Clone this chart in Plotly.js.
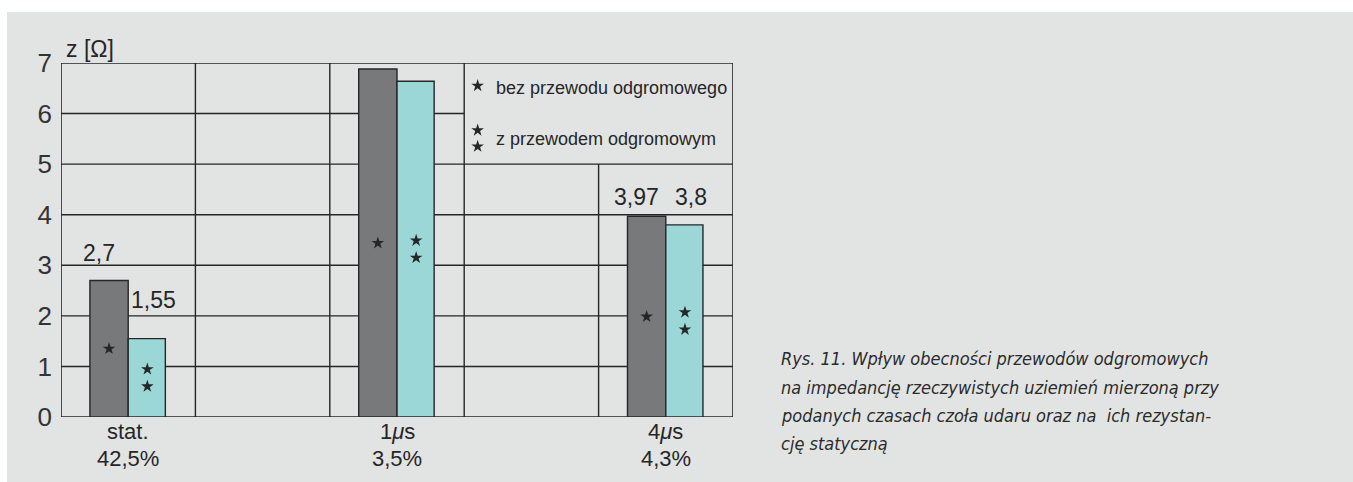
<!DOCTYPE html>
<html>
<head>
<meta charset="utf-8">
<script src="https://cdn.plot.ly/plotly-3.0.1.min.js"></script>
<style>
  html, body { margin: 0; padding: 0; background: #ffffff; }
  #chart { width: 1353px; height: 482px; }
</style>
</head>
<body>
<div id="chart"></div>
<script>
// ---- data ----
const categories = ["stat.", "1<i>μ</i>s", "4<i>μ</i>s"];
const percentages = ["42,5%", "3,5%", "4,3%"];
const withoutWire = [2.7, 6.88, 3.97];     // * bez przewodu odgromowego
const withWire = [1.55, 6.64, 3.8];        // ** z przewodem odgromowym
const withoutLabels = ["2,7", "6,88", "3,97"];
const withLabels = ["1,55", "6,64", "3,8"];
const legendTexts = ["bez przewodu odgromowego", "z przewodem odgromowym"];
const yTickVals = [0, 1, 2, 3, 4, 5, 6, 7];
const yTitle = "z [Ω]";
const captionLines = [
  "Rys. 11. Wpływ obecności przewodów odgromowych",
  "na impedancję rzeczywistych uziemień mierzoną przy",
  "podanych czasach czoła udaru oraz na  ich rezystan-",
  "cję statyczną"
];

// ---- layout helpers (pixel geometry of the plot area) ----
const W = 1353, H = 482;
const L = 61, R = 733, T = 63, B = 417;
const px2x = px => (px - L) / (R - L);
const py2y = py => (B - py) / (B - T);

const catPos = categories.map((_, i) => 0.5 + 2 * i);
const barW = 0.285;
const gray = "#77797b", cyan = "#9bd7d7", ink = "#262626";
const font = "Liberation Sans, Arial, Helvetica, sans-serif";

const traces = [
  {
    type: "bar", x: catPos, y: withoutWire, width: barW, offset: -barW,
    marker: { color: gray, line: { color: ink, width: 1.4 } },
    hoverinfo: "skip", showlegend: false
  },
  {
    type: "bar", x: catPos, y: withWire, width: barW * 0.97, offset: 0,
    marker: { color: cyan, line: { color: ink, width: 1.4 } },
    hoverinfo: "skip", showlegend: false
  },
  // single star in the middle of the grey bars
  {
    type: "scatter", mode: "markers",
    x: catPos.map(c => c - barW / 2), y: withoutWire.map(v => v / 2),
    marker: { symbol: "star", size: 9.5, color: ink },
    hoverinfo: "skip", showlegend: false
  },
  // double star in the middle of the cyan bars
  {
    type: "scatter", mode: "markers",
    x: catPos.flatMap(c => [c + barW / 2, c + barW / 2]),
    y: withWire.flatMap(v => [v / 2 + 0.17, v / 2 - 0.17]),
    marker: { symbol: "star", size: 9.5, color: ink },
    hoverinfo: "skip", showlegend: false
  },
  // legend stars
  {
    type: "scatter", mode: "markers", xaxis: "x", yaxis: "y",
    x: [3.1, 3.1, 3.1], y: [6.55, 5.67, 5.35],
    marker: { symbol: "star", size: 9.5, color: ink },
    hoverinfo: "skip", showlegend: false, cliponaxis: false
  }
];

// grid lines as shapes (cut around the legend box)
const lineStyle = { color: ink, width: 1.4 };
const shapes = [
  { type: "rect", xref: "paper", yref: "paper", x0: px2x(7), x1: px2x(1353), y0: py2y(482), y1: py2y(12),
    fillcolor: "#e2e3e3", line: { width: 0 }, layer: "below" }
];
[1, 2, 3, 4, 5].forEach(v => shapes.push({ type: "line", xref: "x", yref: "y", x0: 0, x1: 5, y0: v, y1: v, line: lineStyle, layer: "below" }));
shapes.push({ type: "line", xref: "x", yref: "y", x0: 0, x1: 3, y0: 6, y1: 6, line: lineStyle, layer: "below" });
[1, 2, 3].forEach(v => shapes.push({ type: "line", xref: "x", yref: "y", x0: v, x1: v, y0: 0, y1: 7, line: lineStyle, layer: "below" }));
shapes.push({ type: "line", xref: "x", yref: "y", x0: 4, x1: 4, y0: 0, y1: 5, line: lineStyle, layer: "below" });
shapes.push({ type: "rect", xref: "x", yref: "y", x0: 0, x1: 5, y0: 0, y1: 7, line: { color: ink, width: 1.6 }, layer: "below" });

const annotations = [];
// value labels
const grayLabelDx = -0.22, cyanLabelDx = 0.19;
const grayLabelY = [withoutWire[0] + 0.54, 7.31, withoutWire[2] + 0.38];
const cyanLabelY = [withWire[0] + 0.76, 7.31, withoutWire[2] + 0.38];
catPos.forEach((c, i) => {
  annotations.push({ x: c + grayLabelDx, y: grayLabelY[i], xref: "x", yref: "y", text: withoutLabels[i],
    showarrow: false, font: { family: font, size: 23, color: ink }, xanchor: "center", yanchor: "middle" });
  annotations.push({ x: c + cyanLabelDx, y: cyanLabelY[i], xref: "x", yref: "y", text: withLabels[i],
    showarrow: false, font: { family: font, size: 23, color: ink }, xanchor: "center", yanchor: "middle" });
  // category name (first line) and percentage (second line) under the axis
  annotations.push({ x: c, y: py2y(432), xref: "x", yref: "paper", text: categories[i],
    showarrow: false, font: { family: font, size: 22, color: ink }, xanchor: "center", yanchor: "middle" });
  annotations.push({ x: c, y: py2y(458), xref: "x", yref: "paper", text: percentages[i],
    showarrow: false, font: { family: font, size: 22, color: ink }, xanchor: "center", yanchor: "middle" });
});
// y axis title
annotations.push({ x: px2x(64), y: py2y(49), xref: "paper", yref: "paper", text: yTitle, showarrow: false,
  xanchor: "left", yanchor: "middle", font: { family: font, size: 23, color: ink } });
// legend texts
annotations.push({ x: px2x(494), y: py2y(88), xref: "paper", yref: "paper", text: legendTexts[0], showarrow: false,
  xanchor: "left", yanchor: "middle", font: { family: font, size: 18, color: ink } });
annotations.push({ x: px2x(494), y: py2y(139), xref: "paper", yref: "paper", text: legendTexts[1], showarrow: false,
  xanchor: "left", yanchor: "middle", font: { family: font, size: 18, color: ink } });
// caption
const capY = [358, 387, 415, 443];
captionLines.forEach((t, i) => annotations.push({
  x: px2x(779), y: py2y(capY[i]), xref: "paper", yref: "paper", text: "<i>" + t + "</i>", showarrow: false,
  xanchor: "left", yanchor: "middle",
  font: { family: "Liberation Sans Narrow, DejaVu Sans Condensed, Arial Narrow, sans-serif", size: 18, color: "#2b2b2b" }
}));

const layout = {
  width: W, height: H,
  margin: { l: L, r: W - R, t: T, b: H - B, pad: 0 },
  paper_bgcolor: "#ffffff", plot_bgcolor: "rgba(0,0,0,0)",
  barmode: "overlay",
  showlegend: false,
  xaxis: {
    range: [0, 5], showgrid: false, zeroline: false, showline: false, ticks: "",
    showticklabels: false, fixedrange: true
  },
  yaxis: {
    range: [0, 7], showgrid: false, zeroline: false, showline: false, ticks: "",
    tickvals: yTickVals, ticktext: yTickVals.map(String), ticklabelstandoff: 8,
    tickfont: { family: font, size: 26, color: "#333333" }, fixedrange: true
  },
  shapes: shapes,
  annotations: annotations
};

Plotly.newPlot("chart", traces, layout, { displayModeBar: false, staticPlot: true });
</script>
</body>
</html>
